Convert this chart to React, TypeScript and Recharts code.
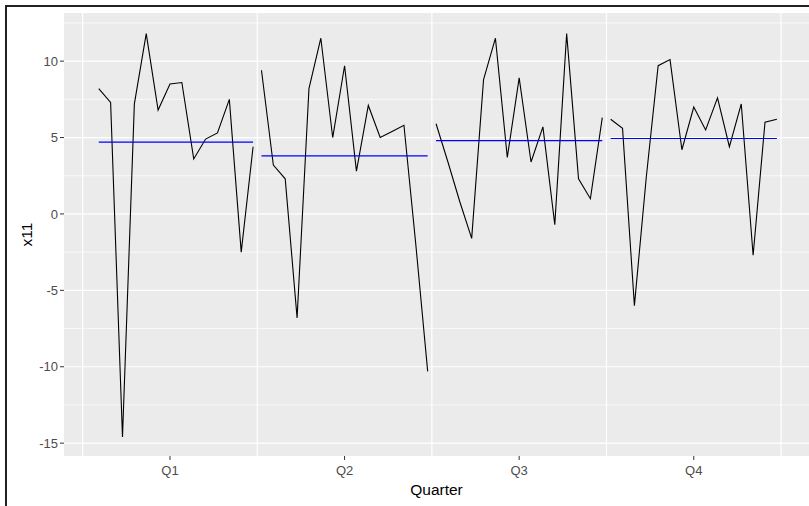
import { LineChart, Line, XAxis, YAxis, CartesianGrid } from 'recharts';

// quarterly subseries, one value per year
const quarters = ['Q1', 'Q2', 'Q3', 'Q4'];
const firstYear = [2, 1, 1, 1];
const q1Values = [8.2, 7.3, -14.6, 7.2, 11.8, 6.8, 8.5, 8.6, 3.6, 4.9, 5.3, 7.5, -2.5, 4.4];
const q2Values = [9.4, 3.2, 2.3, -6.8, 8.2, 11.5, 5.0, 9.7, 2.8, 7.1, 5.0, 5.4, 5.8, -2.0, -10.3];
const q3Values = [5.9, 3.4, 0.8, -1.6, 8.8, 11.5, 3.7, 8.9, 3.4, 5.7, -0.7, 11.8, 2.3, 1.0, 6.3];
const q4Values = [6.2, 5.6, -6.0, 2.4, 9.7, 10.1, 4.2, 7.0, 5.5, 7.6, 4.4, 7.2, -2.7, 6.0, 6.2];
const quarterMeans = [4.7, 3.8, 4.8, 4.94];

const yTicks = [-15, -10, -5, 0, 5, 10];
const yMinor = [-12.5, -7.5, -2.5, 2.5, 7.5, 12.5];
const xTicks = [1, 2, 3, 4];
const xBounds = [0.5, 1.5, 2.5, 3.5, 4.5];

const allValues = [q1Values, q2Values, q3Values, q4Values];
const SPREAD = 0.068;

const series = allValues.map((vals, qi) =>
  vals.map((v, i) => ({ x: qi + 1 + (firstYear[qi] + i - 8) * SPREAD, v }))
);
const meanLines = series.map((pts, qi) => [
  { x: pts[0].x, v: quarterMeans[qi] },
  { x: pts[pts.length - 1].x, v: quarterMeans[qi] },
]);

const FONT = '"Liberation Sans", Arial, sans-serif';

export default function App() {
  return (
    <div style={{ position: 'absolute', left: 0, top: 0, width: 809, height: 506, overflow: 'hidden', background: '#fff', fontFamily: FONT }}>
      <div style={{ position: 'absolute', left: 5, top: 5, width: 900, height: 600, borderLeft: '2px solid #222', borderTop: '2px solid #222' }} />
      <div style={{ position: 'absolute', left: 0, top: 0 }}>
        <LineChart width={809} height={506} margin={{ top: 13, right: 0, bottom: 0, left: 0 }}>
          <CartesianGrid fill="#EBEBEB" stroke="#fff" strokeWidth={0.7} horizontalValues={yMinor} vertical={false} />
          <CartesianGrid stroke="#fff" strokeWidth={1.2} horizontalValues={yTicks} verticalValues={xBounds} fill="none" />
          <XAxis
            type="number"
            dataKey="x"
            domain={[0.393, 4.66]}
            allowDataOverflow
            ticks={xTicks}
            tickFormatter={(v) => quarters[v - 1]}
            height={50}
            axisLine={false}
            tickLine={{ stroke: '#333' }}
            tickSize={4}
            tickMargin={6}
            tick={{ fill: '#4D4D4D', fontSize: 13, fontFamily: FONT }}
            label={{ value: 'Quarter', position: 'insideBottom', offset: 11, fill: '#000', fontSize: 15.5, fontFamily: FONT }}
          />
          <YAxis
            type="number"
            domain={[-15.84, 13.15]}
            allowDataOverflow
            ticks={yTicks}
            width={64}
            axisLine={false}
            tickLine={{ stroke: '#333' }}
            tickSize={4}
            tickMargin={2}
            tick={{ fill: '#4D4D4D', fontSize: 13, fontFamily: FONT }}
            label={{
              content: () => (
                <text x={26} y={234.5} transform="rotate(-90 26 234.5)" textAnchor="middle" dominantBaseline="central" fill="#000" fontSize={15.5} fontFamily={FONT}>
                  x11
                </text>
              ),
            }}
          />
          {series.map((pts, qi) => (
            <Line key={`s${qi}`} data={pts} dataKey="v" type="linear" stroke="#000" strokeWidth={1.1} dot={false} isAnimationActive={false} />
          ))}
          {meanLines.map((pts, qi) => (
            <Line key={`m${qi}`} data={pts} dataKey="v" type="linear" stroke="#0000FF" strokeWidth={1.1} dot={false} isAnimationActive={false} />
          ))}
        </LineChart>
      </div>
    </div>
  );
}
